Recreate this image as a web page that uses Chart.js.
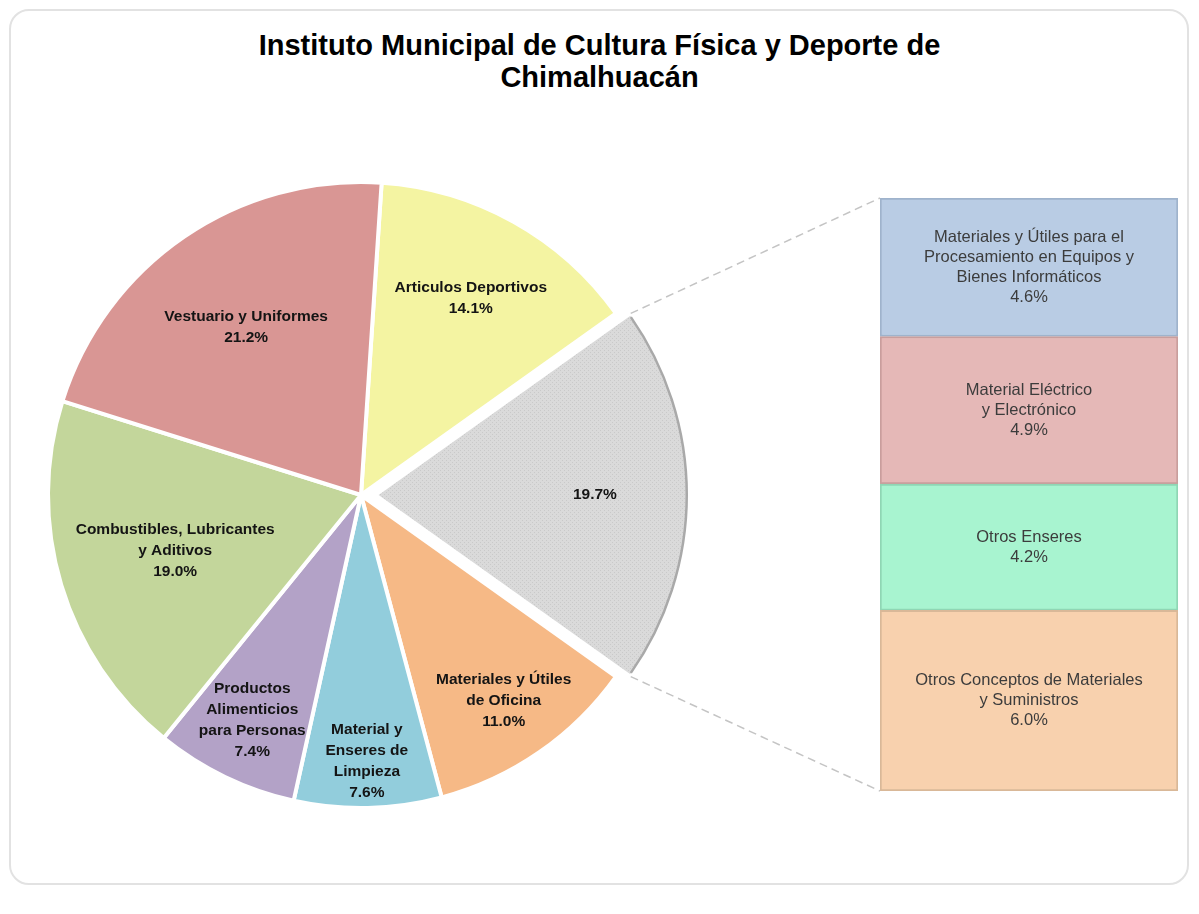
<!DOCTYPE html>
<html>
<head>
<meta charset="utf-8">
<script src="https://cdn.jsdelivr.net/npm/chart.js@4"></script>
<style>
  body { margin: 0; background: #fff; }
  #wrap { position: relative; width: 1199px; height: 914px; overflow: hidden; }
  #frame {
    position: absolute; left: 9px; top: 9px; width: 1180px; height: 876px;
    border: 2px solid #e2e2e2; border-radius: 20px; box-sizing: border-box;
  }
  #title {
    position: absolute; left: 0; top: 29px; width: 1199px; text-align: center;
    font: bold 29px "Liberation Sans", Arial, sans-serif; line-height: 32px; color: #000;
  }
  canvas { position: absolute; }
  #pieCanvas { left: 0; top: 0; }
  #barCanvas { left: 880px; top: 198px; }
</style>
</head>
<body>
<div id="wrap">
  <div id="frame"></div>
  <div id="title">Instituto Municipal de Cultura Física y Deporte de<br>Chimalhuacán</div>
  <canvas id="barCanvas" width="298" height="593"></canvas>
  <canvas id="pieCanvas" width="1199" height="914"></canvas>
</div>
<script>
// pie: clockwise from the top, the gray slice is broken out into the bar
const pieLabels = [
  ["Articulos Deportivos"],
  [],
  ["Materiales y Útiles", "de Oficina"],
  ["Material y", "Enseres de", "Limpieza"],
  ["Productos", "Alimenticios", "para Personas"],
  ["Combustibles, Lubricantes", "y Aditivos"],
  ["Vestuario y Uniformes"],
];
const pieValues = [14.1, 19.7, 11.0, 7.6, 7.4, 19.0, 21.2];
const pieColors = ["#f4f4a2", "#d9d9d9", "#f6b986", "#92cddc", "#b3a2c7", "#c3d69b", "#d99694"];

// bar: bottom to top
const barLabels = [
  ["Otros Conceptos de Materiales", "y Suministros"],
  ["Otros Enseres"],
  ["Material Eléctrico", "y Electrónico"],
  ["Materiales y Útiles para el", "Procesamiento en Equipos y", "Bienes Informáticos"],
];
const barValues = [6.0, 4.2, 4.9, 4.6];
const barColors = ["#f8d1ae", "#a8f4d0", "#e5b8b7", "#b9cce4"];
const barBorders = ["#d9b898", "#8fd6b4", "#c99e9d", "#9fb3cc"];

const otherIndex = 1;
const labelRadius = [0.72, 0.7, 0.8, 0.85, 0.8, 0.62, 0.65];

// dotted fill for the "other" slice
function dotPattern() {
  const c = document.createElement("canvas");
  c.width = 4; c.height = 4;
  const g = c.getContext("2d");
  g.fillStyle = "#dadada";
  g.fillRect(0, 0, 4, 4);
  g.fillStyle = "#c9c9c9";
  g.fillRect(0, 0, 1, 1);
  g.fillRect(2, 2, 1, 1);
  return g.createPattern(c, "repeat");
}

function drawLines(ctx, lines, x, y, lh) {
  const top = y - (lines.length - 1) * lh / 2;
  lines.forEach((t, i) => ctx.fillText(t, x, top + i * lh));
}

const barLabelPlugin = {
  id: "barLabels",
  afterDatasetsDraw(chart) {
    const ctx = chart.ctx;
    ctx.save();
    ctx.font = '16.5px "Liberation Sans", Arial, sans-serif';
    ctx.fillStyle = "#3c3c3c";
    ctx.textAlign = "center";
    ctx.textBaseline = "middle";
    chart.data.datasets.forEach((ds, i) => {
      const el = chart.getDatasetMeta(i).data[0];
      const lines = barLabels[i].concat([barValues[i].toFixed(1) + "%"]);
      drawLines(ctx, lines, el.x, (el.y + el.base) / 2, 20);
    });
    ctx.restore();
  },
};

const barTotal = barValues.reduce((a, b) => a + b, 0);

const barChart = new Chart(document.getElementById("barCanvas"), {
  type: "bar",
  data: {
    labels: [""],
    datasets: barValues.map((v, i) => ({
      label: barLabels[i].join(" "),
      data: [v],
      backgroundColor: barColors[i],
      borderColor: barBorders[i],
      borderWidth: 2,
      borderSkipped: false,
      barPercentage: 1,
      categoryPercentage: 1,
    })),
  },
  options: {
    responsive: false,
    animation: false,
    layout: { padding: 0 },
    scales: {
      x: { display: false, stacked: true },
      y: { display: false, stacked: true, min: 0, max: barTotal },
    },
    plugins: {
      legend: { display: false },
      tooltip: { enabled: false },
    },
  },
  plugins: [barLabelPlugin],
});

const pieExtras = {
  id: "pieExtras",
  afterDatasetsDraw(chart) {
    const ctx = chart.ctx;
    const arcs = chart.getDatasetMeta(0).data;

    // connector lines from the broken-out slice to the bar
    const other = arcs[otherIndex];
    const o = other.options;
    const mid = (other.startAngle + other.endAngle) / 2;
    const fix = 1 - Math.sin(Math.min(Math.PI, other.circumference));
    const shift = (o.offset / 4) * (1 + fix);
    const cx = other.x + Math.cos(mid) * shift;
    const cy = other.y + Math.sin(mid) * shift;
    const R = other.outerRadius;
    const barCanvas = barChart.canvas;
    const bx = barCanvas.offsetLeft;
    const by = barCanvas.offsetTop;
    const topEl = barChart.getDatasetMeta(barValues.length - 1).data[0];
    const botEl = barChart.getDatasetMeta(0).data[0];

    // darker rim on the broken-out slice
    ctx.save();
    ctx.strokeStyle = "#a9a9a9";
    ctx.lineWidth = 2.5;
    ctx.beginPath();
    ctx.arc(cx, cy, R - 2, other.startAngle + 0.01, other.endAngle - 0.01);
    ctx.stroke();
    ctx.restore();

    ctx.save();
    ctx.strokeStyle = "#c4c4c4";
    ctx.lineWidth = 1.5;
    ctx.setLineDash([8, 5]);
    ctx.beginPath();
    ctx.moveTo(cx + Math.cos(other.startAngle) * R, cy + Math.sin(other.startAngle) * R);
    ctx.lineTo(bx + topEl.x - topEl.width / 2, by + topEl.y);
    ctx.moveTo(cx + Math.cos(other.endAngle) * R, cy + Math.sin(other.endAngle) * R);
    ctx.lineTo(bx + botEl.x - botEl.width / 2, by + botEl.base);
    ctx.stroke();
    ctx.restore();

    // slice labels
    ctx.save();
    ctx.font = 'bold 15.5px "Liberation Sans", Arial, sans-serif';
    ctx.fillStyle = "#141414";
    ctx.textAlign = "center";
    ctx.textBaseline = "middle";
    arcs.forEach((arc, i) => {
      const m = (arc.startAngle + arc.endAngle) / 2;
      const f = 1 - Math.sin(Math.min(Math.PI, arc.circumference));
      const s = ((arc.options.offset || 0) / 4) * (1 + f);
      const r = arc.outerRadius * labelRadius[i] + s;
      const x = arc.x + Math.cos(m) * r;
      const y = arc.y + Math.sin(m) * r;
      const lines = pieLabels[i].concat([pieValues[i].toFixed(1) + "%"]);
      drawLines(ctx, lines, x, y, 21);
    });
    ctx.restore();
  },
};

const pieChart = new Chart(document.getElementById("pieCanvas"), {
  type: "pie",
  data: {
    labels: pieLabels.map((l) => l.join(" ") || "Otros"),
    datasets: [
      {
        data: pieValues,
        backgroundColor: pieColors.map((c, i) => (i === otherIndex ? dotPattern() : c)),
        borderColor: "#ffffff",
        borderWidth: 4,
        offset: pieValues.map((v, i) => (i === otherIndex ? 56 : 0)),
      },
    ],
  },
  options: {
    responsive: false,
    animation: false,
    rotation: 90 - (pieValues[0] + pieValues[otherIndex] / 2) * 3.6,
    radius: 313,
    layout: { padding: { left: 0, right: 477, top: 76, bottom: 0 } },
    plugins: {
      legend: { display: false },
      tooltip: { enabled: false },
    },
  },
  plugins: [pieExtras],
});
</script>
</body>
</html>
